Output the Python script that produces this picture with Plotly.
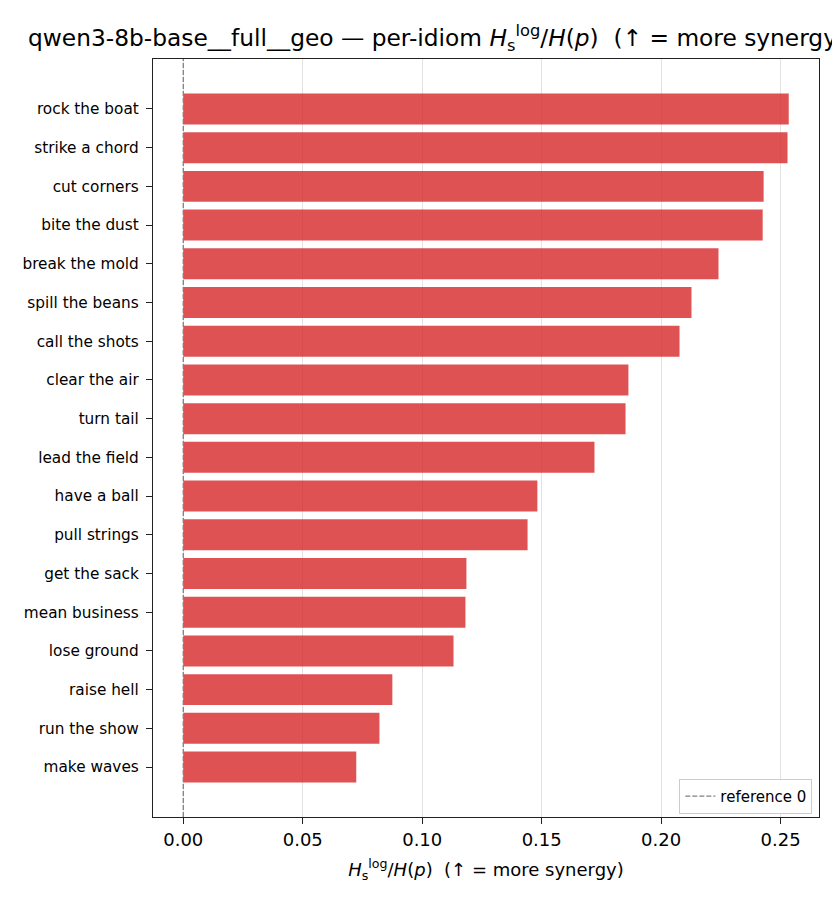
import plotly.graph_objects as go

idioms = ["rock the boat", "strike a chord", "cut corners", "bite the dust",
          "break the mold", "spill the beans", "call the shots", "clear the air",
          "turn tail", "lead the field", "have a ball", "pull strings",
          "get the sack", "mean business", "lose ground", "raise hell",
          "run the show", "make waves"]
ratio = [0.2534, 0.2529, 0.2429, 0.2425, 0.2240, 0.2127, 0.2077, 0.1863,
         0.1851, 0.1721, 0.1482, 0.1441, 0.1185, 0.1181, 0.1131, 0.0875,
         0.0821, 0.0724]
xticks = [0.00, 0.05, 0.10, 0.15, 0.20, 0.25]

metric = "<i>H</i><sub>s</sub><sup>log</sup>/<i>H</i>(<i>p</i>)"

# page body has an 8px margin, so the figure is a little smaller than the window
W, H = 832, 902

fig = go.Figure()

fig.add_trace(go.Bar(
    x=ratio,
    y=idioms,
    orientation="h",
    marker_color="rgba(214,39,40,0.8)",
    marker_line_width=0,
    showlegend=False,
    hovertemplate="%{y}: %{x:.4f}<extra></extra>",
))

# dashed reference line at zero, with its own legend entry
fig.add_shape(type="line", x0=0, x1=0, y0=0, y1=1,
              xref="x", yref="y domain",
              line=dict(color="grey", width=1.3, dash="5px,2px"),
              showlegend=True, name="reference 0")

span = max(ratio)
fig.update_layout(
    width=W, height=H,
    paper_bgcolor="white", plot_bgcolor="white",
    font=dict(family="DejaVu Sans", color="black", size=15),
    margin=dict(l=145, r=21, t=51, b=93),
    bargap=0.2,
    # the title is wider than the figure and runs off the right edge, as in the original
    title=dict(text="qwen3-8b-base__full__geo \u2014 per-idiom " + metric
               + "  (\u2191 = more synergy)",
               x=20 / W, xanchor="left", y=1 - 30 / H, yanchor="middle",
               xref="container", yref="container",
               font=dict(size=23.3)),
    legend=dict(x=0.99, xanchor="right", y=0.004, yanchor="bottom",
                bgcolor="white", bordercolor="#cccccc", borderwidth=1,
                font=dict(size=15)),
)

fig.update_xaxes(
    range=[-0.05 * span, 1.05 * span],
    tickvals=xticks, tickformat=".2f",
    showgrid=True, gridcolor="#e3e3e3", gridwidth=1.3,
    zeroline=False,
    showline=True, linecolor="#222222", linewidth=1.3, mirror=True,
    ticks="outside", ticklen=6, tickcolor="#222222", tickwidth=1.3,
    tickfont=dict(size=18),
    title=dict(text=metric + "  (\u2191 = more synergy)", font=dict(size=18),
               standoff=14),
)
fig.update_yaxes(
    categoryorder="array", categoryarray=idioms,
    range=[len(idioms) - 1 + 1.29, -1.29],
    showgrid=False, zeroline=False,
    showline=True, linecolor="#222222", linewidth=1.3, mirror=True,
    ticks="outside", ticklen=6, tickcolor="#222222", tickwidth=1.3,
    ticklabelstandoff=4,
    tickfont=dict(size=15.3),
)

fig.write_html("out.html")
